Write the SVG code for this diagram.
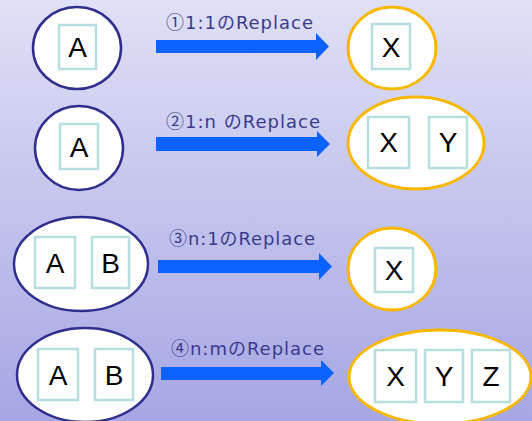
<svg xmlns="http://www.w3.org/2000/svg" width="532" height="421" viewBox="0 0 532 421">
<defs>
<linearGradient id="bg" x1="0" y1="0" x2="0" y2="1">
<stop offset="0" stop-color="#e0e0f6"/>
<stop offset="1" stop-color="#a6a6e4"/>
</linearGradient>
<style>
.src{fill:#fff;stroke:#2e2e8e;stroke-width:2.5}
.dst{fill:#fff;stroke:#f8b800;stroke-width:3}
.box{fill:#fff;stroke:#b6dde0;stroke-width:2.5}
.let{font-family:"Liberation Sans",Arial,sans-serif;font-size:28px;fill:#000;text-anchor:middle}
.lab{font-family:"DejaVu Sans","Noto Sans CJK JP",sans-serif;font-size:18px;fill:#3a3a8e}
.cd{font-family:"Noto Sans CJK JP",sans-serif}
.arr{fill:#0b62ff}
</style>
</defs>
<rect width="532" height="421" fill="url(#bg)"/>
<g id="connectors">
<g id="arrow1"><polygon class="arr" points="156,40 316,40 316,33 329,46.5 316,60 316,53 156,53"/><text class="lab" x="166" y="29" textLength="147" lengthAdjust="spacing"><tspan class="cd">①</tspan>1:1のReplace</text></g>
<g id="arrow2"><polygon class="arr" points="156,137 317,137 317,131 330,144 317,157 317,151 156,151"/><text class="lab" x="166" y="128" textLength="154" lengthAdjust="spacing"><tspan class="cd">②</tspan>1:n のReplace</text></g>
<g id="arrow3"><polygon class="arr" points="158,260 319,260 319,253 332,266.5 319,280 319,273 158,273"/><text class="lab" x="169" y="245" textLength="146" lengthAdjust="spacing"><tspan class="cd">③</tspan>n:1のReplace</text></g>
<g id="arrow4"><polygon class="arr" points="161,367 321,367 321,360 334,373 321,386 321,380 161,380"/><text class="lab" x="171" y="355" textLength="153" lengthAdjust="spacing"><tspan class="cd">④</tspan>n:mのReplace</text></g>
</g>
<g id="n1src"><ellipse class="src" cx="77" cy="48" rx="44" ry="41"/><rect class="box" x="59" y="25" width="37" height="44"/><text class="let" x="77.5" y="57">A</text></g>
<g id="n1dst"><ellipse class="dst" cx="392" cy="48" rx="44" ry="41"/><rect class="box" x="372" y="24" width="38" height="45"/><text class="let" x="391" y="57">X</text></g>
<g id="n2src"><ellipse class="src" cx="79" cy="148" rx="44" ry="42"/><rect class="box" x="60" y="124" width="38" height="45"/><text class="let" x="79" y="157">A</text></g>
<g id="n2dst"><ellipse class="dst" cx="416" cy="143" rx="68" ry="46"/><rect class="box" x="368" y="117" width="41" height="51"/><text class="let" x="388.5" y="152">X</text><rect class="box" x="429" y="117" width="38" height="51"/><text class="let" x="448" y="152">Y</text></g>
<g id="n3src"><ellipse class="src" cx="81" cy="264" rx="67" ry="47"/><rect class="box" x="35" y="237" width="40" height="51"/><text class="let" x="55" y="273">A</text><rect class="box" x="92" y="237" width="37" height="51"/><text class="let" x="110.5" y="273">B</text></g>
<g id="n3dst"><ellipse class="dst" cx="392" cy="269" rx="44" ry="41"/><rect class="box" x="375" y="248" width="38" height="44"/><text class="let" x="394" y="280">X</text></g>
<g id="n4src"><ellipse class="src" cx="85" cy="375" rx="68" ry="47"/><rect class="box" x="38" y="349" width="40" height="51"/><text class="let" x="58" y="385">A</text><rect class="box" x="95" y="349" width="38" height="51"/><text class="let" x="114" y="385">B</text></g>
<g id="n4dst"><ellipse class="dst" cx="440" cy="377" rx="91" ry="47"/><rect class="box" x="375" y="350" width="41" height="52"/><text class="let" x="395.5" y="386">X</text><rect class="box" x="425" y="350" width="38" height="52"/><text class="let" x="444" y="386">Y</text><rect class="box" x="472" y="350" width="38" height="52"/><text class="let" x="491" y="386">Z</text></g>
</svg>
